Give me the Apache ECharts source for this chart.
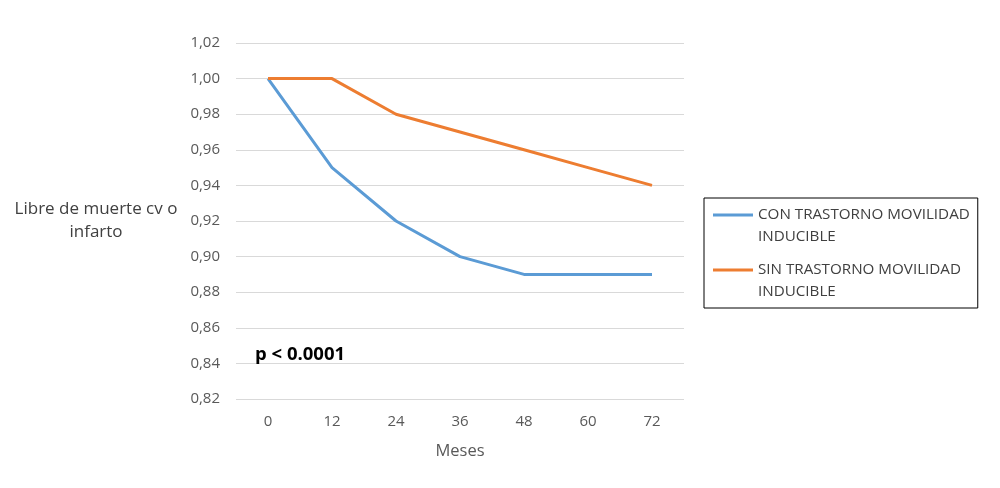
<!DOCTYPE html>
<html>
<head>
<meta charset="utf-8">
<script src="https://cdn.jsdelivr.net/npm/echarts@6/dist/echarts.min.js"></script>
<style>html,body{margin:0;padding:0;background:#fff}#c{width:1000px;height:488px}</style>
</head>
<body>
<div id="c"></div>
<script>
var months = ['0', '12', '24', '36', '48', '60', '72'];
var conTrastorno = [1.00, 0.95, 0.92, 0.90, 0.89, 0.89, 0.89];
var sinTrastorno = [1.00, 1.00, 0.98, 0.97, 0.96, 0.95, 0.94];
var seriesNames = ['CON TRASTORNO MOVILIDAD\nINDUCIBLE', 'SIN TRASTORNO MOVILIDAD\nINDUCIBLE'];

var font = '"Open Sans", "Liberation Sans", sans-serif';
var legendIcon = 'path://M0,9.5h40v3h-40z M0,0h0.01v0.01h-0.01z M39.99,43.99h0.01v0.01h-0.01z';
var chart = echarts.init(document.getElementById('c'));
chart.setOption({
  animation: false,
  textStyle: { fontFamily: font },
  title: {
    text: 'p < 0.0001',
    left: 250, top: 340,
    textStyle: { fontSize: 18.5, fontWeight: 'bold', color: '#000', fontFamily: font }
  },
  grid: { left: 236, right: 316, top: 43, bottom: 89 },
  legend: {
    orient: 'vertical',
    left: 704, top: 198,
    padding: [6, 8, 5, 9],
    borderColor: '#000', borderWidth: 1,
    itemWidth: 40, itemHeight: 44, itemGap: 11, itemTextGap: 3,
    icon: legendIcon,
    symbolKeepAspect: false,
    textStyle: { fontSize: 15.2, color: '#404040', lineHeight: 22, fontFamily: font },
    data: seriesNames
  },
  xAxis: {
    type: 'category',
    data: months,
    boundaryGap: true,
    name: 'Meses',
    nameLocation: 'middle',
    nameGap: 44,
    nameTextStyle: { fontSize: 16.5, color: '#595959' },
    axisLine: { show: false },
    axisTick: { show: false },
    axisLabel: { fontSize: 15, color: '#595959', margin: 15 }
  },
  yAxis: {
    type: 'value',
    min: 0.82, max: 1.02, interval: 0.02,
    name: 'Libre de muerte cv o\ninfarto',
    nameLocation: 'middle',
    nameRotate: 0,
    nameGap: 140,
    nameTextStyle: { fontSize: 17, color: '#404040', align: 'center', lineHeight: 23, padding: [8, 0, 0, 0] },
    axisLine: { show: false },
    axisTick: { show: false },
    axisLabel: {
      fontSize: 15, color: '#595959', margin: 16,
      formatter: function (v) { return v.toFixed(2).replace('.', ','); }
    },
    splitLine: { lineStyle: { color: '#d9d9d9', width: 1 } }
  },
  series: [
    {
      name: seriesNames[0], type: 'line', data: conTrastorno,
      symbol: 'none', lineStyle: { color: '#5B9BD5', width: 3 }, itemStyle: { color: '#5B9BD5' }
    },
    {
      name: seriesNames[1], type: 'line', data: sinTrastorno,
      symbol: 'none', lineStyle: { color: '#ED7D31', width: 3 }, itemStyle: { color: '#ED7D31' }
    }
  ]
});
</script>
</body>
</html>
